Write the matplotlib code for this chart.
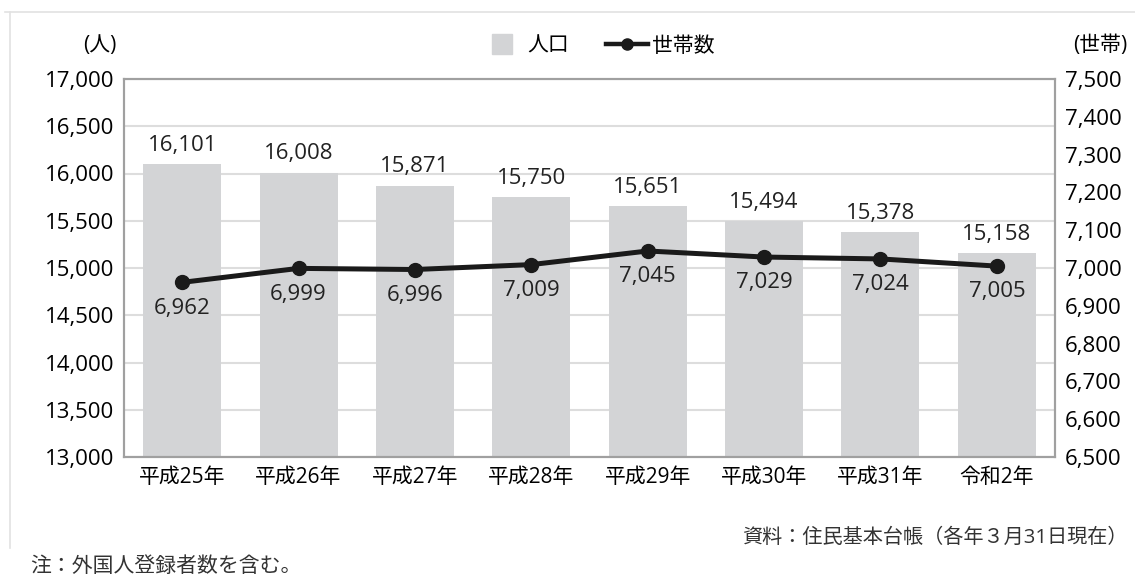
import matplotlib.pyplot as plt
from matplotlib.lines import Line2D

plt.rcParams['font.family'] = ['Open Sans', 'Noto Sans CJK JP', 'DejaVu Sans']

years = ["平成25年", "平成26年", "平成27年", "平成28年", "平成29年", "平成30年", "平成31年", "令和2年"]
population = [16101, 16008, 15871, 15750, 15651, 15494, 15378, 15158]
households = [6962, 6999, 6996, 7009, 7045, 7029, 7024, 7005]

fig = plt.figure(figsize=(11.35, 5.78), dpi=100)
ax = fig.add_axes([124 / 1135, 1 - 457 / 578, (1055 - 124) / 1135, (457 - 79) / 578])
ax2 = ax.twinx()

x = range(len(years))
ax.bar(x, population, width=0.67, color="#d3d4d6", zorder=2)
ax.set_ylim(13000, 17000)
ax.set_xlim(-0.5, len(years) - 0.5)
ax.set_yticks(range(13000, 17001, 500))
ax.yaxis.grid(True, color="#dddddd", linewidth=1.5, zorder=0)
ax.set_axisbelow(True)
ax.set_xticks(list(x))
ax.set_xticklabels(years, fontsize=15)
ax.tick_params(length=0, pad=7)
ax.set_yticklabels([f"{v:,}" for v in range(13000, 17001, 500)], fontsize=16)

ax2.plot(x, households, color="#1a1a1a", linewidth=3.6, marker="o", markersize=10, zorder=5)
ax2.set_ylim(6500, 7500)
ax2.set_yticks(range(6500, 7501, 100))
ax2.set_yticklabels([f"{v:,}" for v in range(6500, 7501, 100)], fontsize=16)
ax2.tick_params(length=0, pad=7)

for a in (ax, ax2):
    for s in a.spines.values():
        s.set_color("#a0a0a0")
        s.set_linewidth(1.5)

for i, v in enumerate(population):
    ax.annotate(f"{v:,}", (i, v), xytext=(0, 6), textcoords="offset points",
                ha="center", va="bottom", fontsize=16, color="#222222")
for i, v in enumerate(households):
    ax2.annotate(f"{v:,}", (i, v), xytext=(0, -11), textcoords="offset points",
                 ha="center", va="top", fontsize=16, color="#222222")

fig.text(100 / 1135, 1 - 46 / 578, "(人)", ha="center", va="center", fontsize=15)
fig.text(1100 / 1135, 1 - 46 / 578, "(世帯)", ha="center", va="center", fontsize=15)

handles = [Line2D([], [], color="#d3d4d6", linestyle="none", marker="s", markersize=14),
           Line2D([], [], color="#1a1a1a", linewidth=3.2, marker="o", markersize=8)]
fig.legend(handles, ["人口", "世帯数"], loc="center", bbox_to_anchor=(598 / 1135, 1 - 46 / 578),
           ncol=2, frameon=False, fontsize=15, handlelength=2.0, columnspacing=1.8,
           handletextpad=0.2)

fig.text(1128 / 1135, 1 - 538 / 578, "資料：住民基本台帳（各年３月31日現在）", ha="right", va="center",
         fontsize=14.5, color="#333333")
fig.text(30 / 1135, 1 - 566 / 578, "注：外国人登録者数を含む。", ha="left", va="center",
         fontsize=15, color="#333333")

# outer frame
fig.add_artist(Line2D([5 / 1135, 1], [1 - 12 / 578, 1 - 12 / 578], color="#e2e2e2", linewidth=1.2))
fig.add_artist(Line2D([10 / 1135, 10 / 1135], [1 - 12 / 578, 1 - 548 / 578], color="#e2e2e2", linewidth=1.2))

fig.savefig("out.png", dpi=100)
